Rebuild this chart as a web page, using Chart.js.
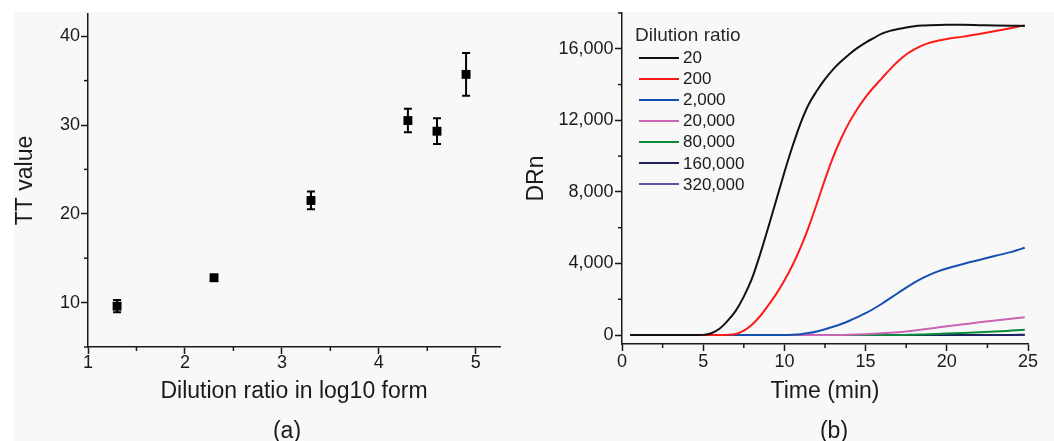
<!DOCTYPE html>
<html>
<head>
<meta charset="utf-8">
<script src="https://cdn.jsdelivr.net/npm/chart.js@4.4.1/dist/chart.umd.min.js"></script>
<style>
  html, body { margin: 0; padding: 0; background: #fff; }
  body { width: 1054px; height: 441px; position: relative; overflow: hidden;
         font-family: "Liberation Sans", Arial, sans-serif; color: #1a1a1a; }
  #bg { position: absolute; left: 14px; top: 12px; right: 0; bottom: 0; background: #f8f8f8; }
  canvas { position: absolute; top: 0; }
  #chartA { left: 0; }
  #chartB { left: 520px; }
  .cap { position: absolute; top: 419px; font-size: 23px; line-height: 23px; transform: translateX(-50%); }
  #legend { position: absolute; left: 635px; top: 24px; }
  #legend .title { font-size: 19px; line-height: 21px; white-space: nowrap; color: #2a2a2a; }
  #legend .row { position: absolute; left: 0; display: flex; align-items: center; height: 21px;
                 font-size: 17px; line-height: 21px; white-space: nowrap; }
  #legend .swatch { width: 40px; height: 2px; margin-left: 4px; margin-right: 4px; }
</style>
</head>
<body>
<div id="bg"></div>
<canvas id="chartA" width="527" height="441"></canvas>
<canvas id="chartB" width="534" height="441"></canvas>
<div id="legend"></div>
<div class="cap" style="left:287px">(a)</div>
<div class="cap" style="left:834px">(b)</div>

<script>
// ---- panel (a): TT value vs dilution ratio ----
const log10Ratio = [1.3, 2.3, 3.3, 4.3, 4.6, 4.9];
const ttMean = [9.6, 12.8, 21.5, 30.5, 29.3, 35.7];
const ttErr = [0.7, 0.3, 1.0, 1.33, 1.45, 2.4];
const log10Ticks = [1, 2, 3, 4, 5];
const ttTicks = [10, 20, 30, 40];

// ---- panel (b): amplification curves ----
const timeMin = [0.5, 1, 2, 3, 4, 5, 5.5, 6, 6.5, 7, 7.5, 8, 8.5, 9, 9.5, 10, 10.5, 11, 11.5, 12,
  12.5, 13, 13.5, 14, 14.5, 15, 15.5, 16, 16.5, 17, 17.5, 18, 18.5, 19, 19.5, 20, 21, 22, 23, 24, 24.8];
const drn20 = [0, 0, 0, 0, 0, 10, 100, 350, 790, 1350, 2150, 3150, 4500, 6000, 7550, 9100, 10550, 11850, 12900, 13650,
  14300, 14850, 15300, 15700, 16050, 16350, 16600, 16850, 17000, 17100, 17190, 17260, 17300, 17320, 17335, 17340, 17340, 17320, 17300, 17285, 17280];
const drn200 = [0, 0, 0, 0, 0, 0, 0, 0, 10, 60, 250, 580, 1050, 1650, 2300, 3050, 3900, 4900, 6050, 7350,
  8700, 9950, 11000, 11900, 12650, 13300, 13850, 14350, 14850, 15300, 15680, 15970, 16190, 16350, 16460, 16550, 16680, 16830, 16990, 17160, 17320];
const drn2000 = [0, 0, 0, 0, 0, 0, 0, 0, 0, 0, 0, 0, 0, 0, 0, 0, 15, 50, 110, 200,
  320, 460, 620, 800, 1000, 1220, 1470, 1750, 2050, 2350, 2650, 2930, 3180, 3390, 3570, 3720, 3970, 4200, 4430, 4650, 4880];
const drn20000 = [0, 0, 0, 0, 0, 0, 0, 0, 0, 0, 0, 0, 0, 0, 0, 0, 0, 0, 0, 0,
  0, 0, 5, 15, 30, 50, 70, 95, 125, 160, 205, 255, 310, 370, 430, 490, 600, 710, 815, 915, 995];
const drn80000 = [0, 0, 0, 0, 0, 0, 0, 0, 0, 0, 0, 0, 0, 0, 0, 0, 0, 0, 0, 0,
  0, 0, 0, 0, 0, 0, 0, 0, 0, 0, 10, 20, 35, 50, 65, 80, 115, 155, 200, 250, 290];
const drn160000 = [0, 0, 0, 0, 0, 0, 0, 0, 0, 0, 0, 0, 0, 0, 0, 0, 0, 0, 0, 0,
  0, 0, 0, 0, 0, 0, 0, 0, 0, 0, 0, 0, 0, 0, 0, 0, 0, 0, 0, 10, 20];
const drn320000 = [0, 0, 0, 0, 0, 0, 0, 0, 0, 0, 0, 0, 0, 0, 0, 0, 0, 0, 0, 0,
  0, 0, 0, 0, 0, 0, 0, 0, 0, 0, 0, 0, 0, 0, 0, 0, 0, 0, 0, 0, 0];
const seriesNames = ['20', '200', '2,000', '20,000', '80,000', '160,000', '320,000'];
const seriesValues = [drn20, drn200, drn2000, drn20000, drn80000, drn160000, drn320000];
const seriesColors = ['#111111', '#ff1a1a', '#1550b0', '#c865b5', '#0b8a3c', '#1e2060', '#6550aa'];
const timeTicks = [0, 5, 10, 15, 20, 25];
const drnTicks = [0, 4000, 8000, 12000, 16000];

const INK = '#1a1a1a';
Chart.defaults.font.family = "'Liberation Sans', Arial, sans-serif";
Chart.defaults.color = INK;

// short minor tick marks between the labelled ones
const minorTicks = {
  id: 'minorTicks',
  afterDraw(chart, args, opts) {
    const {ctx, chartArea} = chart;
    ctx.save();
    ctx.strokeStyle = INK;
    ctx.lineWidth = 1.5;
    ['x', 'y'].forEach(id => {
      const s = chart.scales[id];
      const step = opts[id][0], major = opts[id][1];
      for (let v = Math.ceil(s.min / step) * step; v <= s.max + 1e-9; v += step) {
        const r = v / major;
        if (Math.abs(r - Math.round(r)) < 1e-6) continue;
        const p = s.getPixelForValue(v);
        ctx.beginPath();
        if (id === 'x') { ctx.moveTo(p, chartArea.bottom); ctx.lineTo(p, chartArea.bottom + 4); }
        else { ctx.moveTo(chartArea.left - 4, p); ctx.lineTo(chartArea.left, p); }
        ctx.stroke();
      }
    });
    ctx.restore();
  }
};

// vertical error bars with caps
const errorBars = {
  id: 'errorBars',
  afterDatasetsDraw(chart) {
    const {ctx, scales: {x, y}} = chart;
    ctx.save();
    ctx.strokeStyle = '#000';
    ctx.lineWidth = 2;
    log10Ratio.forEach((xv, i) => {
      const px = x.getPixelForValue(xv);
      const top = y.getPixelForValue(ttMean[i] + ttErr[i]);
      const bot = y.getPixelForValue(ttMean[i] - ttErr[i]);
      ctx.beginPath();
      ctx.moveTo(px, top); ctx.lineTo(px, bot);
      ctx.moveTo(px - 4, top); ctx.lineTo(px + 4, top);
      ctx.moveTo(px - 4, bot); ctx.lineTo(px + 4, bot);
      ctx.stroke();
    });
    ctx.restore();
  }
};

function axis(opts) {
  return {
    type: 'linear',
    min: opts.min, max: opts.max,
    afterBuildTicks: s => { s.ticks = opts.ticks.map(v => ({ value: v })); },
    afterFit: opts.fit,
    ticks: { padding: opts.pad, font: { size: 18, lineHeight: 1 }, color: INK,
             callback: v => v.toLocaleString('en-US') },
    grid: { drawOnChartArea: false, tickLength: 7, tickWidth: 1.5, tickColor: INK },
    border: { display: true, color: INK, width: 1.5 },
    title: { display: true, text: opts.title, color: INK, font: { size: 23, lineHeight: 1 }, padding: opts.titlePad }
  };
}

new Chart(document.getElementById('chartA'), {
  type: 'scatter',
  data: {
    datasets: [{
      data: log10Ratio.map((v, i) => ({ x: v, y: ttMean[i] })),
      pointStyle: 'rect', pointRadius: 6.3, pointBorderWidth: 0,
      backgroundColor: '#000', borderColor: '#000'
    }]
  },
  options: {
    responsive: false, animation: false, events: [],
    layout: { padding: { top: 14, right: 27, left: 0, bottom: 0 } },
    plugins: { legend: { display: false }, tooltip: { enabled: false },
               minorTicks: { x: [0.5, 1], y: [5, 10] } },
    scales: {
      x: axis({ min: 1, max: 5.25, ticks: log10Ticks, pad: 0, title: 'Dilution ratio in log10 form',
                titlePad: { top: 0, bottom: 37.5 }, fit: s => { s.height = 94; } }),
      y: axis({ min: 5, max: 42.5, ticks: ttTicks, pad: 1, title: 'TT value',
                titlePad: { top: 14, bottom: 0 }, fit: s => { s.width = 88; } })
    }
  },
  plugins: [errorBars, minorTicks]
});

const chartB = new Chart(document.getElementById('chartB'), {
  type: 'line',
  data: {
    datasets: seriesNames.map((name, k) => ({
      label: name,
      data: timeMin.map((t, i) => ({ x: t, y: seriesValues[k][i] })),
      borderColor: seriesColors[k], backgroundColor: seriesColors[k],
      borderWidth: 2, pointRadius: 0, cubicInterpolationMode: 'monotone', fill: false
    }))
  },
  options: {
    responsive: false, animation: false, events: [],
    layout: { padding: { top: 13, right: 26, left: 0, bottom: 0 } },
    plugins: { legend: { display: false }, tooltip: { enabled: false },
               minorTicks: { x: [2.5, 5], y: [2000, 4000] } },
    scales: {
      x: axis({ min: 0, max: 25, ticks: timeTicks, pad: 2.5, title: 'Time (min)',
                titlePad: { top: 0, bottom: 37.5 }, fit: s => { s.height = 97; } }),
      y: axis({ min: -500, max: 18000, ticks: drnTicks, pad: 1.5, title: 'DRn',
                titlePad: { top: 5, bottom: 0 }, fit: s => { s.width = 102; } })
    }
  },
  plugins: [minorTicks]
});

// legend drawn inside the plot area, built from the datasets
const legend = document.getElementById('legend');
const title = document.createElement('div');
title.className = 'title';
title.textContent = 'Dilution ratio';
legend.appendChild(title);
chartB.data.datasets.forEach((ds, i) => {
  const row = document.createElement('div');
  row.className = 'row';
  row.style.top = (23 + i * 21.1) + 'px';
  const sw = document.createElement('span');
  sw.className = 'swatch';
  sw.style.background = ds.borderColor;
  const lab = document.createElement('span');
  lab.textContent = ds.label;
  row.appendChild(sw); row.appendChild(lab);
  legend.appendChild(row);
});
</script>
</body>
</html>
